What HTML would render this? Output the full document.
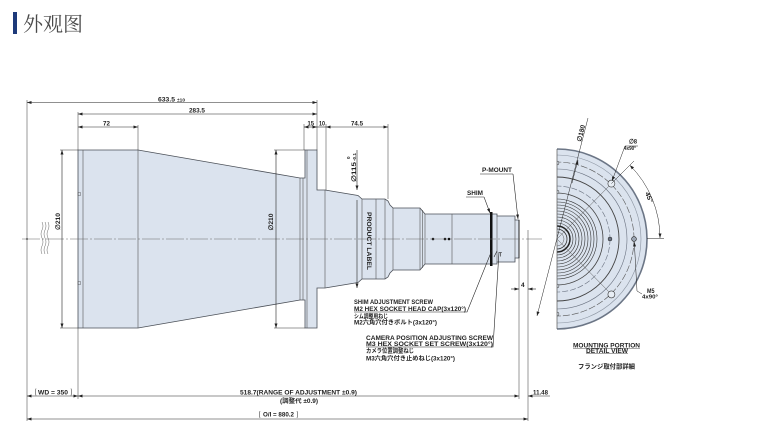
<!DOCTYPE html>
<html><head><meta charset="utf-8"><style>
html,body{margin:0;padding:0;background:#fff;}
svg{display:block;}
.d{font-family:"Liberation Sans",Arial,sans-serif;font-weight:bold;font-size:6.5px;fill:#222;}
.j{font-family:"Liberation Sans","Noto Sans CJK JP",sans-serif;font-weight:bold;font-size:6px;fill:#222;}
</style></head><body>
<svg width="774" height="444" viewBox="0 0 774 444" xmlns="http://www.w3.org/2000/svg">
<defs>
<marker id="a" viewBox="0 0 6 4" refX="6" refY="2" markerWidth="4.5" markerHeight="3" orient="auto-start-reverse" markerUnits="userSpaceOnUse"><path d="M0,0L6,2L0,4z" fill="#222"/></marker>
<clipPath id="hd"><path d="M557,149A90,90 0 0 1 557,329Z"/></clipPath>
</defs>

<!-- title -->
<rect x="13" y="12" width="4" height="22" fill="#1e3a7a"/>
<text x="23" y="31" style="font-family:'Noto Serif CJK SC','Noto Sans CJK SC',serif;font-size:20px;fill:#4a4a4a">外观图</text>

<!-- main body -->
<polygon points="78,150 138,150 300,178 305,178 305,150 317,150 317,190 325,190 358,195.5 362,199 385,199 388,201 390,205 393,208 420,208 425,214 497,214 497,216 515,216 515,220 519,220 519,258 515,258 515,262 497,262 497,264 425,264 420,270 393,270 390,273 388,277 385,279 362,279 358,282.5 325,288 317,288 317,328 305,328 305,300 300,300 138,328 78,328" fill="#dbe3ee" stroke="#4a4f57" stroke-width="0.8"/>
<g stroke="#555" stroke-width="0.6">
<path d="M83,150V328M138,150V328M300,178V300M303,178V300M307,150V328M325,190V288M362,199V279M376,199V279M385,199V279M393,208V270M420,208V270M422.5,210V268M425,214V264M452,214V264M497,216V262M515,220V258"/>
</g>
<path d="M519,220V258" stroke="#222" stroke-width="1"/>
<rect x="490" y="212" width="2.5" height="54" fill="#111"/>
<rect x="78" y="192.5" width="2.5" height="3" fill="none" stroke="#444" stroke-width="0.4"/>
<rect x="78" y="281.5" width="2.5" height="3" fill="none" stroke="#444" stroke-width="0.4"/>
<circle cx="433" cy="239" r="1.3" fill="#111"/>
<circle cx="445" cy="239" r="1.3" fill="#111"/>
<circle cx="449" cy="239" r="1.3" fill="#111"/>
<path d="M494,257L497,251M499,252.5h3M500.5,252.5v4" stroke="#222" stroke-width="0.6" fill="none"/>

<!-- center line -->
<path d="M22,239H542" stroke="#666" stroke-width="0.6" stroke-dasharray="18 2 2 2"/>
<circle cx="27" cy="239" r="0.9" fill="#444"/>
<!-- break lines -->
<g fill="none" stroke="#666" stroke-width="0.5">
<path d="M42,222q2,4 0,8t0,8t0,8t0,8"/>
<path d="M45,222q2,4 0,8t0,8t0,8t0,8"/>
<path d="M48,222q2,4 0,8t0,8t0,8t0,8"/>
</g>

<!-- extension lines -->
<path d="M27,100V421M78,112V150M78,328V399M138,125V150M304,124V150M317,100V150M326,124V190M388,124V199M519,258V399M528,230V421M60,150H78M60,328H78M274,150H305M274,328H305" stroke="#333" stroke-width="0.5" fill="none"/>

<!-- dimension lines -->
<g stroke="#222" stroke-width="0.6" fill="none">
<path d="M27,102.5H317" marker-start="url(#a)" marker-end="url(#a)"/>
<path d="M78,114H317" marker-start="url(#a)" marker-end="url(#a)"/>
<path d="M78,127H138" marker-start="url(#a)" marker-end="url(#a)"/>
<path d="M304,127H317" marker-start="url(#a)" marker-end="url(#a)"/>
<path d="M317,127H326"/>
<path d="M326,127H388" marker-start="url(#a)" marker-end="url(#a)"/>
<path d="M62,150V328" marker-start="url(#a)" marker-end="url(#a)"/>
<path d="M276,150V328" marker-start="url(#a)" marker-end="url(#a)"/>
<path d="M357,150V190" marker-end="url(#a)"/>
<path d="M357,200V288" marker-end="url(#a)"/>
<path d="M27,396H78" marker-start="url(#a)" marker-end="url(#a)"/>
<path d="M78,396H519" marker-start="url(#a)" marker-end="url(#a)"/>
<path d="M550,396H528" marker-end="url(#a)"/>
<path d="M27,419H528" marker-start="url(#a)" marker-end="url(#a)"/>
<path d="M511,289H519" marker-end="url(#a)"/>
<path d="M536,289H528" marker-end="url(#a)"/>
<!-- leaders -->
<path d="M480,174H513"/>
<path d="M513,174L518,219" marker-end="url(#a)"/>
<path d="M466,197H484"/>
<path d="M484,197L490,213" marker-end="url(#a)"/>
<path d="M354,312H467L492,250"/>
<path d="M366,347H493L499,252"/>
<!-- bracket marks -->
<path d="M36,388.5q-1.5,3.5 0,7M71,388.5q1.5,3.5 0,7M260,411q-1.5,3.5 0,7M297,411q1.5,3.5 0,7" stroke-width="0.5"/>
</g>

<!-- dimension texts -->
<text x="158" y="101.5" class="d" textLength="17" lengthAdjust="spacingAndGlyphs">633.5</text>
<text x="177" y="101.5" class="d" style="font-size:4.5px" textLength="8" lengthAdjust="spacingAndGlyphs">±10</text>
<text x="189" y="112.5" class="d" textLength="16" lengthAdjust="spacingAndGlyphs">283.5</text>
<text x="103" y="125.5" class="d" textLength="7" lengthAdjust="spacingAndGlyphs">72</text>
<text x="307.5" y="125.5" class="d" textLength="6.5" lengthAdjust="spacingAndGlyphs">15</text>
<text x="319" y="125.5" class="d" textLength="6" lengthAdjust="spacingAndGlyphs">10</text>
<text x="351" y="125.5" class="d" textLength="12" lengthAdjust="spacingAndGlyphs">74.5</text>
<text transform="translate(60,230) rotate(-90)" class="d" textLength="17" lengthAdjust="spacingAndGlyphs">∅210</text>
<text transform="translate(273,230.5) rotate(-90)" class="d" textLength="17" lengthAdjust="spacingAndGlyphs">∅210</text>
<text transform="translate(356,182) rotate(-90)" class="d" textLength="20" lengthAdjust="spacingAndGlyphs">∅115</text>
<text transform="translate(356,161) rotate(-90)" class="d" style="font-size:4.5px" textLength="8" lengthAdjust="spacingAndGlyphs">-0.1</text>
<text transform="translate(350,159) rotate(-90)" class="d" style="font-size:4.5px">0</text>
<text transform="translate(367,212) rotate(90)" class="d" textLength="58" lengthAdjust="spacingAndGlyphs">PRODUCT LABEL</text>
<text x="482" y="172" class="d" textLength="30" lengthAdjust="spacingAndGlyphs">P-MOUNT</text>
<text x="467" y="195" class="d" textLength="16" lengthAdjust="spacingAndGlyphs">SHIM</text>
<text x="521" y="287" class="d">4</text>

<text x="354" y="304" class="d" textLength="79" lengthAdjust="spacingAndGlyphs">SHIM ADJUSTMENT SCREW</text>
<text x="354" y="311" class="d" textLength="112" lengthAdjust="spacingAndGlyphs">M2 HEX SOCKET HEAD CAP(3x120°)</text>
<text x="354" y="318.5" class="j" textLength="34" lengthAdjust="spacingAndGlyphs">シム調整用ねじ</text>
<text x="354" y="324.5" class="j" textLength="83" lengthAdjust="spacingAndGlyphs">M2六角穴付きボルト(3x120°)</text>
<text x="366" y="340" class="d" textLength="127" lengthAdjust="spacingAndGlyphs">CAMERA POSITION ADJUSTING SCREW</text>
<text x="366" y="346" class="d" textLength="127" lengthAdjust="spacingAndGlyphs">M3 HEX SOCKET SET SCREW(3x120°)</text>
<text x="366" y="353" class="j" textLength="48" lengthAdjust="spacingAndGlyphs">カメラ位置調整ねじ</text>
<text x="366" y="360.5" class="j" textLength="89" lengthAdjust="spacingAndGlyphs">M3六角穴付き止めねじ(3x120°)</text>

<text x="38" y="394.5" class="d" textLength="30" lengthAdjust="spacingAndGlyphs">WD = 350</text>
<text x="240" y="394.5" class="d" textLength="117" lengthAdjust="spacingAndGlyphs">518.7(RANGE OF ADJUSTMENT ±0.9)</text>
<text x="280" y="403" class="j" textLength="38" lengthAdjust="spacingAndGlyphs">(調整代 ±0.9)</text>
<text x="263" y="416.5" class="d" textLength="31" lengthAdjust="spacingAndGlyphs">O/I = 880.2</text>
<text x="533" y="394.5" class="d" textLength="15" lengthAdjust="spacingAndGlyphs">11.48</text>

<!-- detail view -->
<path d="M557,149A90,90 0 0 1 557,329Z" fill="#dbe3ee"/>
<g clip-path="url(#hd)" fill="none">
<circle cx="557" cy="239" r="84" stroke="#8a93a0" stroke-width="0.6"/>
<circle cx="557" cy="239" r="77" stroke="#555" stroke-width="0.6" stroke-dasharray="7 2"/>
<circle cx="557" cy="239" r="70" stroke="#6a7280" stroke-width="0.6"/>
<circle cx="557" cy="239" r="62" stroke="#444" stroke-width="0.9"/>
<circle cx="557" cy="239" r="53" stroke="#6a7280" stroke-width="0.6" stroke-dasharray="6 2"/>
<circle cx="557" cy="239" r="46" stroke="#444" stroke-width="0.8"/>
<g stroke="#333" stroke-width="0.6">
<circle cx="557" cy="239" r="40"/><circle cx="557" cy="239" r="37"/><circle cx="557" cy="239" r="34"/>
<circle cx="557" cy="239" r="31"/><circle cx="557" cy="239" r="28"/><circle cx="557" cy="239" r="25"/>
<circle cx="557" cy="239" r="22"/><circle cx="557" cy="239" r="19"/><circle cx="557" cy="239" r="16"/>
</g>
<circle cx="557" cy="239" r="13" stroke="#222" stroke-width="1.5"/>
<circle cx="557" cy="239" r="10" stroke="#333" stroke-width="0.8"/>
<circle cx="557" cy="239" r="7" stroke="#555" stroke-width="0.5"/>
<path d="M557,239L611.4,183.6M557,239L611.4,294.4" stroke="#555" stroke-width="0.5"/>
<g stroke="#333" stroke-width="0.5" fill="#dbe3ee">
<circle cx="557" cy="163" r="2"/><circle cx="557" cy="192" r="2"/><circle cx="557" cy="286" r="2"/><circle cx="557" cy="314" r="2"/>
</g>
</g>
<path d="M557,149A90,90 0 0 1 557,329" fill="none" stroke="#6c7686" stroke-width="1.6"/>
<path d="M557,149V329" stroke="#555" stroke-width="0.7"/>
<circle cx="611.4" cy="183.6" r="3.5" fill="#e8eef5" stroke="#333" stroke-width="0.6"/>
<circle cx="611.4" cy="294.4" r="3.5" fill="#e8eef5" stroke="#333" stroke-width="0.6"/>
<circle cx="634" cy="239" r="2.4" fill="#9aa4b2" stroke="#222" stroke-width="0.6"/>
<circle cx="610" cy="239" r="2" fill="#6a7280" stroke="#222" stroke-width="0.5"/>

<g stroke="#222" stroke-width="0.5" fill="none">
<path d="M588,118L537,316" marker-end="url(#a)"/>
<path d="M572,183L578,160" marker-end="url(#a)"/>
<path d="M625,146L612,181" marker-end="url(#a)"/>
<path d="M625,146H638"/>
<path d="M629.8,165.2A103,103 0 0 1 660,238" marker-start="url(#a)" marker-end="url(#a)"/>
<path d="M611.4,183.6L634,161"/>
<path d="M647,238.5H664"/>
<path d="M642,294L637,291L634.3,242" marker-end="url(#a)"/>
</g>
<text transform="translate(581,142) rotate(-75.6)" class="d" textLength="17" lengthAdjust="spacingAndGlyphs">∅180</text>
<text x="629" y="143.5" class="d" textLength="8" lengthAdjust="spacingAndGlyphs">∅8</text>
<text x="624" y="150" class="d" style="font-size:5.5px" textLength="12" lengthAdjust="spacingAndGlyphs">4x90°</text>
<text transform="translate(645,193) rotate(67.5)" class="d" textLength="11" lengthAdjust="spacingAndGlyphs">45°</text>
<text x="647" y="293" class="d" textLength="7.5" lengthAdjust="spacingAndGlyphs">M5</text>
<text x="642" y="298.5" class="d" style="font-size:5.5px" textLength="16" lengthAdjust="spacingAndGlyphs">4x90°</text>

<text x="573" y="347.5" class="d" textLength="67" lengthAdjust="spacingAndGlyphs">MOUNTING PORTION</text>
<text x="586" y="352.8" class="d" textLength="42" lengthAdjust="spacingAndGlyphs">DETAIL VIEW</text>
<path d="M573,348.3H640M586,353.5H628" stroke="#222" stroke-width="0.4"/>
<text x="578" y="368.5" class="j" style="font-size:6.3px" textLength="57" lengthAdjust="spacingAndGlyphs">フランジ取付部詳細</text>
</svg>
</body></html>
